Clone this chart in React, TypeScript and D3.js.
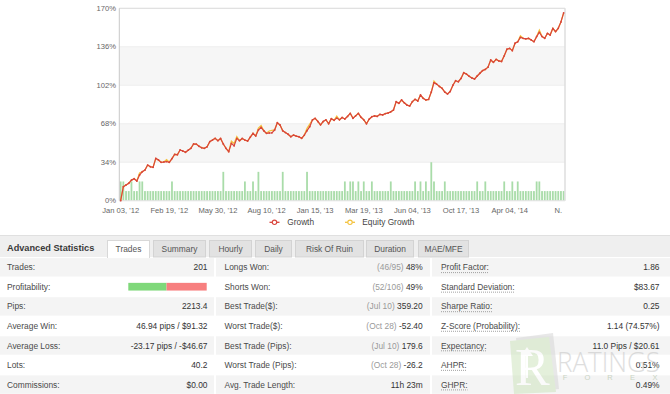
import React from 'react';
import * as d3 from 'd3';

// ---------- chart data ----------
const growth: number[] = [
  0, 12.4, 13.9, 15.4, 18.2, 19.4, 17.4, 22.7, 25.6, 27.1,
  31.5, 30, 29.5, 37.4, 36, 33.9, 34.2, 34.6, 33.9, 37.2,
  41, 40.6, 44.8, 43.9, 42.8, 44.6, 46.3, 50.1, 50, 48.1,
  46.8, 46.3, 47.6, 52.2, 53.6, 55.1, 53, 55, 50.1, 46.3,
  43.3, 50.7, 48.5, 55.1, 53, 55, 53.6, 52.7, 56.1, 59.5,
  57.2, 62.5, 64.8, 61.8, 59.5, 59.8, 60, 62.5, 68.9, 66.9,
  61.8, 60.2, 58.7, 56.5, 58, 57.1, 56.5, 55.1, 58, 61.9,
  65.4, 71.3, 72.8, 70, 67, 70, 71.5, 68, 72.5, 71,
  73, 71.5, 73.5, 72.2, 74.5, 77.2, 72.8, 75, 77.2, 73.7,
  71.5, 68, 72, 74.2, 75, 74.5, 76.3, 75.8, 77, 77.5,
  78.5, 80.1, 87.5, 86, 89, 86.5, 84.5, 83.7, 87.5, 89.6,
  88, 93.4, 90.5, 89, 89.5, 96, 104.3, 103, 101, 99.3,
  96, 94.3, 96.5, 102, 106, 105.1, 108, 113.1, 111.9, 110,
  108.5, 107.5, 110.2, 112.6, 115, 116, 118, 124.3, 122.3, 124.9,
  123.5, 123, 128, 133.8, 134.6, 132.6, 139.1, 140.4, 144.3, 143.5,
  143, 143.5, 142, 140.5, 145, 148.8, 145, 143.5, 147.9, 146.4,
  152.3, 149.4, 152.3, 158, 166,
];

const equityGrowth: number[] = [
  0, 12.4, 13.9, 15.4, 18.2, 19.4, 17.4, 24.5, 25.6, 27.1,
  31.5, 30, 29.5, 37.4, 36, 33.9, 34.2, 36.2, 33.9, 37.2,
  41, 40.6, 44.8, 43.9, 42.8, 44.6, 46.3, 50.1, 50, 48.1,
  46.8, 46.3, 47.6, 52.2, 53.6, 55.1, 53, 55, 50.1, 46.3,
  43.3, 52.6, 50.6, 56.6, 53, 55, 53.6, 52.7, 56.1, 59.5,
  57.2, 64.2, 66.4, 61.8, 59.5, 61.6, 62.2, 62.5, 68.9, 66.9,
  61.8, 60.2, 58.7, 56.5, 58, 57.1, 56.5, 55.1, 58, 64,
  67.6, 71.3, 72.8, 70, 67, 70, 71.5, 68, 72.5, 71,
  74.8, 71.5, 73.5, 72.2, 74.5, 77.2, 72.8, 75, 77.2, 73.7,
  71.5, 68, 72, 74.2, 75, 74.5, 76.3, 75.8, 77, 77.5,
  78.5, 80.1, 87.5, 86, 89, 86.5, 84.5, 83.7, 87.5, 89.6,
  88, 93.4, 90.5, 89, 89.5, 96, 105.6, 103, 101, 99.3,
  96, 94.3, 96.5, 102, 106, 105.1, 108, 113.1, 111.9, 110,
  108.5, 107.5, 110.2, 112.6, 115, 116, 118, 124.3, 122.3, 124.9,
  123.5, 123, 128, 133.8, 134.6, 132.6, 139.1, 140.4, 145.6, 143.5,
  143, 143.5, 142, 140.5, 145, 150.6, 145, 143.5, 147.9, 146.4,
  152.3, 149.4, 152.3, 158, 166,
];

const tradesPerPeriod: number[] = [
  2, 2, 1, 1, 2, 1, 1, 2, 2, 1,
  1, 1, 1, 1, 1, 1, 1, 1, 1, 2,
  1, 1, 1, 1, 1, 1, 1, 1, 1, 1,
  1, 1, 1, 1, 1, 1, 1, 1, 3, 1,
  1, 1, 1, 1, 1, 1, 2, 1, 1, 2,
  1, 3, 1, 1, 1, 1, 1, 1, 1, 1,
  3, 1, 1, 1, 1, 1, 1, 1, 1, 3,
  1, 1, 1, 1, 1, 1, 1, 1, 1, 1,
  1, 1, 1, 2, 1, 2, 2, 1, 2, 1,
  2, 1, 1, 2, 1, 1, 1, 1, 1, 1,
  2, 1, 1, 1, 1, 1, 1, 1, 1, 2,
  1, 2, 1, 2, 1, 4, 2, 1, 1, 1,
  2, 1, 1, 1, 1, 1, 1, 1, 1, 1,
  1, 1, 2, 1, 1, 2, 1, 1, 1, 1,
  1, 1, 2, 1, 1, 2, 1, 2, 1, 1,
  1, 1, 1, 1, 2, 2, 1, 1, 1, 1,
  1, 1, 1, 1, 1,
];

const xTickLabels: string[] = [
  "Jan 03, '12", "Feb 19, '12", "May 30, '12", "Aug 10, '12", "Jan 15, '13",
  "Mar 19, '13", "Jun 04, '13", "Oct 17, '13", "Apr 04, '14", "N.",
];
const yTicks: number[] = [0, 34, 68, 102, 136, 170];
const seriesNames: string[] = ['Growth', 'Equity Growth'];

// ---------- statistics data ----------
const tabNames: string[] = ['Trades', 'Summary', 'Hourly', 'Daily', 'Risk Of Ruin', 'Duration', 'MAE/MFE'];
const col1Labels: string[] = ['Trades:', 'Profitability:', 'Pips:', 'Average Win:', 'Average Loss:', 'Lots:', 'Commissions:'];
const col1Values: string[] = ['201', '', '2213.4', '46.94 pips / $91.32', '-23.17 pips / -$46.67', '40.2', '$0.00'];
const wonTrades = 98;
const totalTrades = 201;
const col2Labels: string[] = ['Longs Won:', 'Shorts Won:', 'Best Trade($):', 'Worst Trade($):', 'Best Trade (Pips):', 'Worst Trade (Pips):', 'Avg. Trade Length:'];
const col2Notes: string[] = ['(46/95)', '(52/106)', '(Jul 10)', '(Oct 28)', '(Jul 10)', '(Oct 28)', ''];
const col2Values: string[] = ['48%', '49%', '359.20', '-52.40', '179.6', '-26.2', '11h 23m'];
const col3Labels: string[] = ['Profit Factor:', 'Standard Deviation:', 'Sharpe Ratio:', 'Z-Score (Probability):', 'Expectancy:', 'AHPR:', 'GHPR:'];
const col3Values: string[] = ['1.86', '$83.67', '0.25', '1.14 (74.57%)', '11.0 Pips / $20.61', '0.51%', '0.49%'];

// ---------- helpers ----------
const FONT = '"Liberation Sans", Arial, sans-serif';
let measureCtx: CanvasRenderingContext2D | null = null;
function textWidth(text: string, size: number, weight = 'normal'): number {
  if (!measureCtx) measureCtx = document.createElement('canvas').getContext('2d');
  if (!measureCtx) return text.length * size * 0.5;
  measureCtx.font = `${weight} ${size}px "Liberation Sans", Arial, sans-serif`;
  return measureCtx.measureText(text).width;
}

export default function App() {
  const W = 670, H = 394;
  const pl = 119.3, pr = 565, pt = 8.3, pb = 200.7;

  const idx = growth.map((_, i) => i);
  const x = d3.scaleBand<number>().domain(idx).range([pl, pr]).padding(0);
  const bw = x.bandwidth();
  const cx = (i: number) => (x(i) as number) + bw / 2;
  const y = d3.scaleLinear().domain([0, 170]).range([pb, pt]);
  const yBar = d3.scaleLinear().domain([0, 20]).range([pb, pt]);

  const lineGen = d3.line<number>().x((_, i) => cx(i)).y(d => y(d));

  const growthColor = '#d9443c';
  const equityColor = '#f4c23c';
  const tickStep = 18;

  // table layout
  const rowY = (i: number) => 267.3 + 19.55 * i;
  const cols = [
    { x0: 0, x1: 214, lx: 7, vx: 207.5 },
    { x0: 216, x1: 430, lx: 224.5, vx: 422.7 },
    { x0: 432, x1: 670, lx: 441, vx: 659.5 },
  ];
  const tabEdges: [number, number][] = [
    [107, 149], [153, 205], [209, 251], [255, 291], [295, 363], [366, 413], [418, 468],
  ];
  const fs = 8.4;
  const labelColor = '#4a4a4a';
  const valueColor = '#333';

  const profX0 = 128.3, profX1 = 206.7;
  const profScale = d3.scaleLinear().domain([0, totalTrades]).range([profX0, profX1]);

  return (
    <svg width={W} height={H} style={{ position: 'absolute', left: 0, top: 0, background: '#fff' }} fontFamily={FONT}>
      <rect x={0} y={0} width={W} height={H} fill="#fff" />

      {/* plot bands */}
      {yTicks.slice(0, -1).map((t, k) => (k % 2 === 1 ? (
        <rect key={'band' + k} x={pl} y={y(yTicks[k + 1])} width={pr - pl} height={y(t) - y(yTicks[k + 1])} fill="#f6f6f6" />
      ) : null))}
      {yTicks.map(t => (
        <line key={'g' + t} x1={pl} x2={pr} y1={y(t)} y2={y(t)} stroke="#eeeeee" strokeWidth={1} />
      ))}

      {/* bars */}
      {tradesPerPeriod.map((v, i) => (
        <rect key={'b' + i} x={cx(i) - 0.9} y={yBar(v)} width={1.8} height={pb - yBar(v)} fill="#a9dca9" />
      ))}

      {/* plot borders */}
      <line x1={pl} x2={pr} y1={pt} y2={pt} stroke="#dedede" />
      <line x1={pr} x2={pr} y1={pt} y2={pb} stroke="#dedede" strokeWidth={1.5} />
      <line x1={pl} x2={pl} y1={pt} y2={pb} stroke="#c8c8c8" />
      <line x1={pl} x2={pr} y1={pb} y2={pb} stroke="#e4e4e4" />

      {/* lines */}
      <path d={lineGen(equityGrowth) || ''} fill="none" stroke={equityColor} strokeWidth={1.3} />
      <path d={lineGen(growth) || ''} fill="none" stroke={growthColor} strokeWidth={1.2} strokeLinejoin="round" />
      {growth.map((v, i) => (
        <circle key={'m' + i} cx={cx(i)} cy={y(v)} r={0.9} fill={growthColor} />
      ))}

      {/* y axis labels */}
      {yTicks.map(t => (
        <text key={'yl' + t} x={116} y={y(t) + 2.7} textAnchor="end" fontSize={7.6} fill="#666">{t}%</text>
      ))}

      {/* x axis labels */}
      {xTickLabels.map((lab, k) => (
        <text key={'xl' + k} x={cx(k * tickStep)} y={213} textAnchor="middle" fontSize={7.6} fill="#666">{lab}</text>
      ))}

      {/* legend */}
      {[{ sx: 274.5, tx: 287.3, c: growthColor }, { sx: 350, tx: 362.3, c: equityColor }].map((l, k) => (
        <g key={'leg' + k}>
          <line x1={l.sx - 5} x2={l.sx + 5} y1={222.3} y2={222.3} stroke={l.c} strokeWidth={1.3} />
          <circle cx={l.sx} cy={222.3} r={2.2} fill="#fff" stroke={l.c} strokeWidth={1.1} />
          <text x={l.tx} y={225.2} fontSize={8.3} fill="#444">{seriesNames[k]}</text>
        </g>
      ))}

      {/* header row */}
      <rect x={0} y={235.5} width={W} height={21.5} fill="#efefef" />
      <line x1={0} x2={W} y1={235.5} y2={235.5} stroke="#e0e0e0" />
      <text x={7} y={251.3} fontSize={9.2} fontWeight="bold" fill="#3a3a3a">Advanced Statistics</text>
      {tabNames.map((t, k) => {
        const [a, b] = tabEdges[k];
        const active = k === 0;
        return (
          <g key={'tab' + k}>
            <rect x={a + 0.5} y={240.5} width={b - a} height={active ? 17 : 16.5}
              fill={active ? '#ffffff' : '#e2e2e2'} stroke={active ? '#d8d8d8' : '#d3d3d3'} strokeWidth={1} />
            {active && <rect x={a + 1} y={256} width={b - a - 1} height={2} fill="#fff" />}
            <text x={(a + b) / 2 + 0.5} y={251.5} textAnchor="middle" fontSize={fs} fill="#555">{t}</text>
          </g>
        );
      })}

      {/* stat rows */}
      {col1Labels.map((_, i) => {
        const yc = rowY(i);
        const fill = i % 2 === 0 ? '#f4f4f4' : '#ffffff';
        return (
          <g key={'row' + i}>
            {cols.map((c, k) => (
              <rect key={'rb' + k} x={c.x0} y={yc - 9.2} width={c.x1 - c.x0} height={18.4} fill={fill} />
            ))}
          </g>
        );
      })}

      {col1Labels.map((lab, i) => {
        const yc = rowY(i);
        return (
          <g key={'c1' + i}>
            <text x={cols[0].lx} y={yc + 3} fontSize={fs} fill={labelColor}>{lab}</text>
            {col1Values[i] !== '' && (
              <text x={cols[0].vx} y={yc + 3} fontSize={fs} fill={valueColor} textAnchor="end">{col1Values[i]}</text>
            )}
          </g>
        );
      })}

      {/* profitability bar */}
      <rect x={profScale(0)} y={rowY(1) - 4} width={profScale(wonTrades) - profScale(0)} height={7.7} fill="#7fd87a" />
      <rect x={profScale(wonTrades)} y={rowY(1) - 4} width={profScale(totalTrades) - profScale(wonTrades)} height={7.7} fill="#f77f7f" />

      {col2Labels.map((lab, i) => {
        const yc = rowY(i);
        return (
          <g key={'c2' + i}>
            <text x={cols[1].lx} y={yc + 3} fontSize={fs} fill={labelColor}>{lab}</text>
            <text x={cols[1].vx} y={yc + 3} fontSize={fs} textAnchor="end">
              {col2Notes[i] !== '' && <tspan fill="#9a9a9a">{col2Notes[i] + ' '}</tspan>}
              <tspan fill={valueColor}>{col2Values[i]}</tspan>
            </text>
          </g>
        );
      })}

      {col3Labels.map((lab, i) => {
        const yc = rowY(i);
        const w = textWidth(lab, fs);
        return (
          <g key={'c3' + i}>
            <text x={cols[2].lx} y={yc + 3} fontSize={fs} fill={labelColor}>{lab}</text>
            <line x1={cols[2].lx} x2={cols[2].lx + w} y1={yc + 5.3} y2={yc + 5.3} stroke="#8a8a8a" strokeWidth={0.8} strokeDasharray="1,1" />
            <text x={cols[2].vx} y={yc + 3} fontSize={fs} fill={valueColor} textAnchor="end">{col3Values[i]}</text>
          </g>
        );
      })}

      {/* watermark */}
      <g opacity={0.55}>
        <polygon points="516,338 553,333 559,389 521,393" fill="#d6d6d6" />
        <polygon points="510,341 549,337 556,392 514,394" fill="#cfe5bf" />
        <text x={515} y={385} fontSize={52} fontFamily='"Liberation Serif", serif' fill="#ffffff">R</text>
        <line x1={527} x2={527} y1={378} y2={352} stroke="#ffffff" strokeWidth={2} />
        <polygon points="521,356 527,347 533,356" fill="#ffffff" />
        <text x={557} y={372} fontSize={27} fill="#c4c4c4" textLength={103} lengthAdjust="spacingAndGlyphs" fontFamily='"Open Sans", sans-serif' fontWeight={300}>RATINGS</text>
        {['F', 'O', 'R', 'E', 'X'].map((ch, k) => (
          <text key={'fx' + k} x={565 + k * 22.5} y={380} fontSize={7.5} fill="#a6b99a" textAnchor="middle">{ch}</text>
        ))}
      </g>
    </svg>
  );
}
